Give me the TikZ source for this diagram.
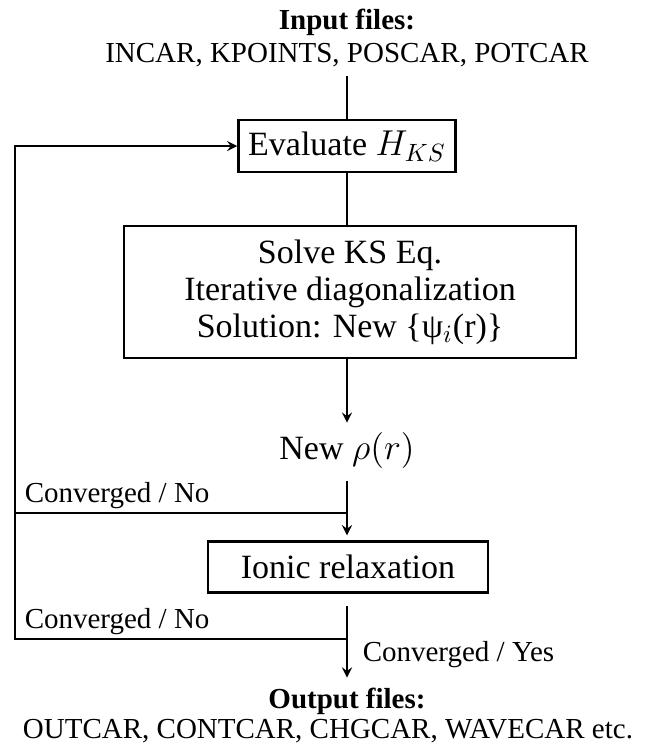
\documentclass[tikz,border=0pt]{standalone}
\usepackage{fontspec}
\setmainfont{Liberation Serif}
\begin{document}
\begin{tikzpicture}[
    x=0.4pt, y=-0.4pt, line width=0.8pt,
    box/.style={rectangle, draw, line width=1pt, align=center, font=\fontsize{13.6}{14.8}\selectfont},
    txt/.style={align=center, font=\fontsize{11.6}{13.2}\selectfont},
    lbl/.style={inner sep=1.5pt, font=\fontsize{11.6}{13}\selectfont},
    arrow/.style={->, >=stealth}
]
    \useasboundingbox (0,0) rectangle (649,749);
    \node[txt] (input) at (347,38) {\textbf{Input files:}\\INCAR, KPOINTS, POSCAR, POTCAR};
    \node[box, minimum width=86.8pt, minimum height=20.8pt] (eval) at (347,146) {Evaluate $H_{KS}$};
    \node[box, minimum width=180.8pt, minimum height=52.8pt] (solve) at (350,292) {Solve KS Eq.\\Iterative diagonalization\\Solution: New \{ψ$_i$(r)\}};
    \node[font=\fontsize{13.6}{16}\selectfont] (rho) at (347,450) {New $\rho(r)$};
    \node[box, minimum width=112pt, minimum height=20.4pt] (ionic) at (348,567) {Ionic relaxation};
    \node[txt, anchor=north, inner sep=1pt] (output) at (347,685) {\textbf{Output files:}};
    \node[txt] (outfiles) at (328,731) {OUTCAR, CONTCAR, CHGCAR, WAVECAR etc.};

    \node[lbl, anchor=south west] (no1) at (20,513) {Converged / No};
    \node[lbl, anchor=south west] (no2) at (20,639) {Converged / No};
    \node[lbl, anchor=west] (yes) at (358,655) {Converged / Yes};

    \coordinate (j1) at (347,513);
    \coordinate (j2) at (347,639);
    \coordinate (left) at (15,639);

    \draw (input) -- (eval);
    \draw (eval) -- (eval |- solve.north);
    \draw[arrow] (rho |- solve.south) -- (rho);
    \draw[arrow, shorten <=1.6pt, shorten >=2pt] (rho) -- (ionic.north -| rho);
    \draw[arrow, shorten <=4.8pt, shorten >=3pt] (ionic.south -| rho) -- (output);
    \draw (j1) -- (j1 -| left);
    \draw[arrow] (j2) -- (left) |- (eval.west);
\end{tikzpicture}
\end{document}
